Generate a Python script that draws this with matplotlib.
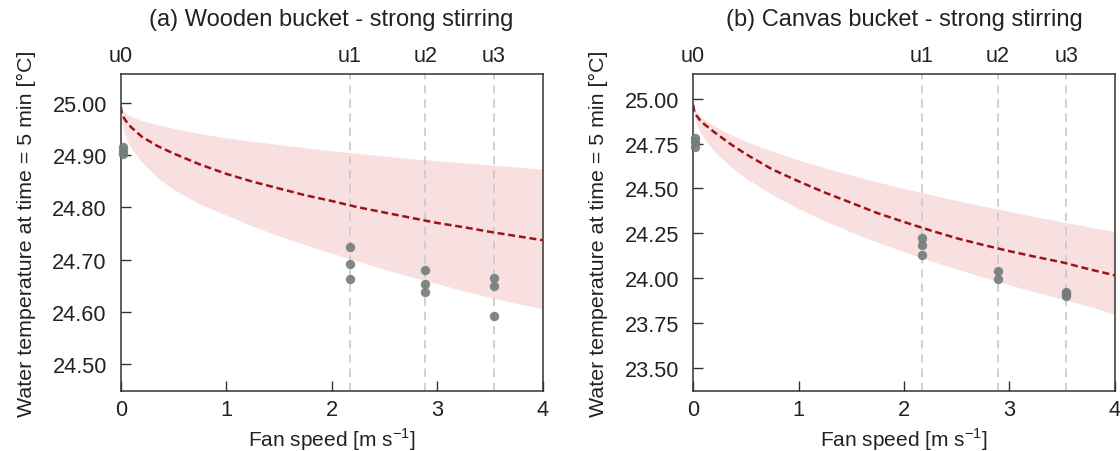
import matplotlib
matplotlib.use("Agg")
import matplotlib.pyplot as plt
import numpy as np

plt.rcParams["font.family"] = ["Liberation Sans", "DejaVu Sans"]
plt.rcParams["mathtext.fontset"] = "custom"
plt.rcParams["mathtext.rm"] = "Liberation Sans"

# fan speeds of the measurement runs
u_pos = [0.0, 2.17, 2.89, 3.54]
u_labels = ["u0", "u1", "u2", "u3"]

# model curve + uncertainty band
x_model = [0, 0.01, 0.03, 0.06, 0.1, 0.2, 0.35, 0.5, 0.75, 1.0, 1.25, 1.5,
           1.75, 2.0, 2.25, 2.5, 2.75, 3.0, 3.25, 3.5, 3.75, 4.0]

wood_mid = [24.993, 24.980, 24.971, 24.962, 24.953, 24.935, 24.917, 24.903,
            24.882, 24.864, 24.849, 24.836, 24.823, 24.812, 24.800, 24.790,
            24.780, 24.770, 24.762, 24.753, 24.745, 24.737]
wood_hi = [24.993, 24.987, 24.983, 24.978, 24.974, 24.966, 24.958, 24.951,
           24.941, 24.933, 24.926, 24.920, 24.914, 24.908, 24.903, 24.898,
           24.893, 24.889, 24.885, 24.881, 24.877, 24.873]
wood_lo = [24.993, 24.963, 24.945, 24.929, 24.913, 24.886, 24.856, 24.834,
           24.806, 24.785, 24.764, 24.745, 24.728, 24.712, 24.697, 24.681,
           24.667, 24.654, 24.640, 24.628, 24.616, 24.606]

canvas_mid = [24.967, 24.935, 24.910, 24.885, 24.862, 24.815, 24.750, 24.692,
              24.607, 24.540, 24.477, 24.420, 24.362, 24.313, 24.266, 24.222,
              24.185, 24.150, 24.118, 24.088, 24.050, 24.015]
canvas_hi = [24.967, 24.948, 24.929, 24.910, 24.890, 24.850, 24.803, 24.764,
             24.708, 24.659, 24.615, 24.574, 24.536, 24.500, 24.466, 24.433,
             24.402, 24.372, 24.342, 24.314, 24.286, 24.260]
canvas_lo = [24.967, 24.909, 24.867, 24.825, 24.784, 24.708, 24.625, 24.558,
             24.465, 24.387, 24.319, 24.257, 24.200, 24.147, 24.097, 24.050,
             24.005, 23.962, 23.921, 23.882, 23.844, 23.795]

# measured points
wood_px = [0.02, 0.02, 0.02, 2.17, 2.17, 2.17, 2.89, 2.89, 2.89, 3.54, 3.54, 3.54]
wood_py = [24.915, 24.908, 24.902, 24.724, 24.692, 24.663, 24.680, 24.654,
           24.637, 24.665, 24.649, 24.592]
canvas_px = [0.02, 0.02, 0.02, 2.17, 2.17, 2.17, 2.89, 2.89, 3.54, 3.54, 3.54]
canvas_py = [24.780, 24.762, 24.731, 24.223, 24.182, 24.126, 24.037, 23.997,
             23.922, 23.910, 23.900]

panels = [
    ("(a) Wooden bucket - strong stirring", wood_mid, wood_hi, wood_lo,
     wood_px, wood_py, (24.449, 25.055), [24.5, 24.6, 24.7, 24.8, 24.9, 25.0]),
    ("(b) Canvas bucket - strong stirring", canvas_mid, canvas_hi, canvas_lo,
     canvas_px, canvas_py, (23.371, 25.139), [23.5, 23.75, 24.0, 24.25, 24.5, 24.75, 25.0]),
]

fig = plt.figure(figsize=(11.2, 4.52), dpi=100)
lefts = [0.1078, 0.6188]
width = 0.3766

for left, (title, mid, hi, lo, px, py, ylim, yticks) in zip(lefts, panels):
    ax = fig.add_axes([left, 0.1334, width, 0.7007])
    ax.fill_between(x_model, lo, hi, color="#f8e0e0", lw=0, zorder=1)
    for u in u_pos[1:]:
        ax.axvline(u, color="#c9c9c9", lw=1.2, dashes=(5, 3.5), zorder=2)
    ax.plot(x_model, mid, color="#9e1316", lw=1.8, dashes=(2.8, 1.5), zorder=3)
    ax.scatter(px, py, s=46, color="#737b7b", alpha=0.9, lw=0, zorder=4,
               clip_on=False)
    ax.set_xlim(0, 4)
    ax.set_ylim(*ylim)
    ax.set_xticks([0, 1, 2, 3, 4])
    ax.set_yticks(yticks)
    ax.set_yticklabels(["%.2f" % v for v in yticks])
    ax.tick_params(direction="in", length=7, width=1, colors="#333333",
                   labelcolor="#222222", labelsize=15.7)
    ax.tick_params(axis="y", pad=10)
    ax.tick_params(axis="x", pad=6)
    for sp in ax.spines.values():
        sp.set_color("#333333")
        sp.set_linewidth(1.1)
    ax.set_xlabel(r"Fan speed [m s$^{\mathregular{-1}}$]", fontsize=15, color="#222222",
                  labelpad=4)
    ax.set_ylabel("Water temperature at time = 5 min [°C]", fontsize=15.4,
                  color="#222222", labelpad=12)
    ax.set_title(title, fontsize=17, color="#222222", pad=35)

    top = ax.secondary_xaxis("top")
    top.set_xticks(u_pos)
    top.set_xticklabels(u_labels)
    top.tick_params(length=0, pad=6, labelsize=15.5, labelcolor="#222222")
    top.spines["top"].set_visible(False)

fig.savefig("out.png", dpi=100)
